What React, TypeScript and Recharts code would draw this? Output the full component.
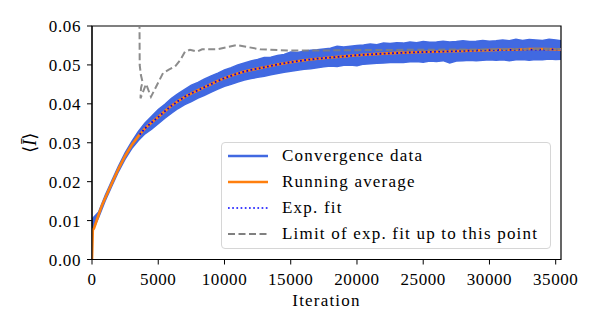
import { Area, ComposedChart, Line, ReferenceArea, XAxis, YAxis } from 'recharts'

const FONT = '"Liberation Serif", "DejaVu Serif", serif'

const xTicks = [0, 5000, 10000, 15000, 20000, 25000, 30000, 35000]
const yTicks = [0, 0.01, 0.02, 0.03, 0.04, 0.05, 0.06]
const xMax = 35400

// spread of the raw convergence data, sampled every 500 iterations
const convStep = 500
const convHigh = [
  0.0104, 0.0122, 0.0165, 0.0203, 0.0240, 0.0274, 0.0303, 0.0329, 0.0351, 0.0368,
  0.0385, 0.0399, 0.0414, 0.0426, 0.0437, 0.0448, 0.0455, 0.0464, 0.0472, 0.0479,
  0.0487, 0.0493, 0.0500, 0.0505, 0.0510, 0.0514, 0.0519, 0.0520, 0.0524, 0.0527,
  0.0533, 0.0532, 0.0535, 0.0538, 0.0539, 0.0541, 0.0543, 0.0548, 0.0546, 0.0548,
  0.0550, 0.0551, 0.0554, 0.0552, 0.0556, 0.0555, 0.0557, 0.0556, 0.0559, 0.0557,
  0.0560, 0.0558, 0.0559, 0.0561, 0.0559, 0.0560, 0.0562, 0.0560, 0.0561, 0.0563,
  0.0561, 0.0562, 0.0564, 0.0562, 0.0566, 0.0563, 0.0565, 0.0564, 0.0563, 0.0566,
  0.0564, 0.0562,
]
const convLow = [
  0.0070, 0.0108, 0.0151, 0.0189, 0.0226, 0.0258, 0.0285, 0.0306, 0.0323, 0.0335,
  0.0349, 0.0363, 0.0376, 0.0388, 0.0398, 0.0406, 0.0415, 0.0422, 0.0430, 0.0438,
  0.0445, 0.0450, 0.0456, 0.0461, 0.0465, 0.0468, 0.0471, 0.0475, 0.0478, 0.0481,
  0.0484, 0.0486, 0.0489, 0.0490, 0.0493, 0.0495, 0.0497, 0.0496, 0.0499, 0.0500,
  0.0498, 0.0502, 0.0503, 0.0504, 0.0505, 0.0506, 0.0507, 0.0506, 0.0508, 0.0509,
  0.0507, 0.0510, 0.0509, 0.0511, 0.0505, 0.0510, 0.0511, 0.0512, 0.0511, 0.0512,
  0.0513, 0.0512, 0.0513, 0.0511, 0.0513, 0.0514, 0.0512, 0.0514, 0.0513, 0.0515,
  0.0514, 0.0515,
]

const avgIters = [
  0, 60, 150, 250, 500, 750, 1000, 1500, 2000, 2500, 3000, 3500, 4000, 4500, 5000,
  5500, 6000, 6500, 7000, 7500, 8000, 8500, 9000, 9500, 10000, 10500, 11000, 11500,
  12000, 13000, 14000, 15000, 16000, 17000, 18000, 19000, 20000, 21000, 22000, 23000,
  24000, 25000, 26000, 27000, 28000, 29000, 30000, 31000, 32000, 33000, 34000, 35000,
  35500,
]
const avgValues = [
  0, 0.0076, 0.008, 0.009, 0.0115, 0.0139, 0.0158, 0.0196, 0.0233, 0.0266, 0.0294,
  0.0317, 0.0337, 0.0352, 0.0366, 0.0381, 0.0395, 0.0407, 0.0418, 0.0427, 0.0435,
  0.0443, 0.0451, 0.0459, 0.0466, 0.0472, 0.0478, 0.0483, 0.0487, 0.0494, 0.0501,
  0.0507, 0.0512, 0.0516, 0.0519, 0.0522, 0.0525, 0.0527, 0.0529, 0.0531, 0.0532,
  0.0533, 0.0534, 0.0535, 0.0536, 0.0537, 0.0538, 0.0539, 0.0539, 0.0541, 0.0541,
  0.054, 0.054,
]

const fitIters = [
  3600, 4000, 4500, 5000, 5500, 6000, 6500, 7000, 7500, 8000, 8500, 9000, 9500,
  10000, 10500, 11000, 11500, 12000, 13000, 14000, 15000, 16000, 17000, 18000, 19000,
  20000, 22000, 24000, 26000, 28000, 30000, 32000, 35500,
]
const fitValues = [
  0.0321, 0.0337, 0.0352, 0.0366, 0.0381, 0.0395, 0.0407, 0.0418, 0.0427, 0.0435,
  0.0443, 0.0451, 0.0459, 0.0466, 0.0472, 0.0478, 0.0483, 0.0487, 0.0494, 0.0501,
  0.0507, 0.0512, 0.0516, 0.0519, 0.0522, 0.0525, 0.0529, 0.0532, 0.0534, 0.0536,
  0.0538, 0.0539, 0.054,
]

const limitIters = [
  3560, 3600, 3690, 3820, 3700, 3660, 4080, 4450, 5360, 5800, 6270, 6650, 7020, 7400,
  7930, 8310, 9440, 10950, 12690, 14950, 17000, 20000, 25000, 30000, 35500,
]
const limitValues = [
  0.08, 0.05, 0.0474, 0.0456, 0.0441, 0.0414, 0.0451, 0.0418, 0.0479, 0.0488, 0.0496,
  0.0512, 0.0534, 0.0539, 0.0534, 0.054, 0.054, 0.0551, 0.054, 0.0537, 0.0537, 0.0538,
  0.0539, 0.054, 0.0541,
]

const convData = convHigh.map((hi, i) => ({ x: i * convStep, lo: convLow[i], hi }))
const avgData = avgIters.map((x, i) => ({ x, y: avgValues[i] }))
const fitData = fitIters.map((x, i) => ({ x, y: fitValues[i] }))
const limitData = limitIters.map((x, i) => ({ x, y: limitValues[i] }))

const legendItems = [
  { label: 'Convergence data', color: '#4169e1', width: 2.5, dash: undefined },
  { label: 'Running average', color: '#ff7f0e', width: 2.5, dash: undefined },
  { label: 'Exp. fit', color: '#0000ff', width: 1.7, dash: '1.7 2.5' },
  { label: 'Limit of exp. fit up to this point', color: '#808080', width: 2, dash: '7 3.5' },
]

const tickStyle = { fill: '#000', fontSize: 17, fontFamily: FONT, letterSpacing: 0.6 }

function YLabel(props: any) {
  const vb = props.viewBox || { x: 0, y: 26, width: 92, height: 233.5 }
  const cx = vb.x + 30
  const cy = vb.y + vb.height / 2
  return (
    <text
      x={cx}
      y={cy}
      transform={`rotate(-90 ${cx} ${cy})`}
      textAnchor="middle"
      dominantBaseline="central"
      fontSize={18}
      fontFamily={FONT}
      fill="#000"
    >
      ⟨<tspan fontStyle="italic">Ī</tspan>⟩
    </text>
  )
}

function ChartLegend() {
  return (
    <div
      style={{
        position: 'absolute',
        left: 221,
        top: 142,
        width: 330,
        height: 107,
        boxSizing: 'border-box',
        border: '1px solid #d6d6d6',
        borderRadius: 4,
        background: 'rgba(255,255,255,0.8)',
        fontFamily: FONT,
        fontSize: 17,
        letterSpacing: 1.2,
        color: '#000',
      }}
    >
      {legendItems.map((item, i) => (
        <div
          key={item.label}
          style={{
            position: 'absolute',
            left: 6,
            top: i * 26,
            height: 26,
            display: 'flex',
            alignItems: 'center',
            whiteSpace: 'nowrap',
          }}
        >
          <svg width={40} height={10} style={{ marginRight: 14 }}>
            <line
              x1={0}
              y1={5}
              x2={40}
              y2={5}
              stroke={item.color}
              strokeWidth={item.width}
              strokeDasharray={item.dash}
            />
          </svg>
          <span>{item.label}</span>
        </div>
      ))}
    </div>
  )
}

export default function App() {
  return (
    <div style={{ position: 'absolute', left: 0, top: 0, width: 598, height: 333, background: '#fff' }}>
      <ComposedChart width={598} height={333} margin={{ top: 26, right: 37, bottom: 0, left: 0 }}>
        <XAxis
          type="number"
          dataKey="x"
          domain={[0, xMax]}
          ticks={xTicks}
          allowDataOverflow
          height={73.5}
          tickSize={5}
          tickMargin={8}
          tick={tickStyle}
          tickLine={{ stroke: '#000' }}
          axisLine={{ stroke: '#000' }}
          label={{
            value: 'Iteration',
            position: 'insideBottom',
            offset: 27,
            fill: '#000',
            fontSize: 17,
            fontFamily: FONT,
            letterSpacing: 1.2,
          }}
        />
        <YAxis
          type="number"
          domain={[0, 0.06]}
          ticks={yTicks}
          allowDataOverflow
          width={92}
          tickSize={5}
          tickMargin={6}
          tick={tickStyle}
          tickLine={{ stroke: '#000' }}
          axisLine={{ stroke: '#000' }}
          tickFormatter={(v: number) => v.toFixed(2)}
          label={<YLabel />}
        />
        <Area
          data={convData}
          dataKey={(d: any) => [d.lo, d.hi]}
          type="linear"
          stroke="#4169e1"
          strokeWidth={1.5}
          fill="#4169e1"
          fillOpacity={1}
          dot={false}
          activeDot={false}
          isAnimationActive={false}
        />
        <Line
          data={avgData}
          dataKey="y"
          type="linear"
          stroke="#ff7f0e"
          strokeWidth={2.6}
          dot={false}
          isAnimationActive={false}
        />
        <Line
          data={fitData}
          dataKey="y"
          type="linear"
          stroke="#0000ff"
          strokeWidth={1.8}
          strokeDasharray="1.8 2.4"
          dot={false}
          isAnimationActive={false}
        />
        <Line
          data={limitData}
          dataKey="y"
          type="linear"
          stroke="#808080"
          strokeWidth={2}
          strokeOpacity={0.9}
          strokeDasharray="7 3.5"
          dot={false}
          isAnimationActive={false}
        />
        <ReferenceArea x1={0} x2={xMax} y1={0} y2={0.06} fill="none" stroke="#000" strokeWidth={1.2} />
      </ComposedChart>
      <ChartLegend />
    </div>
  )
}
